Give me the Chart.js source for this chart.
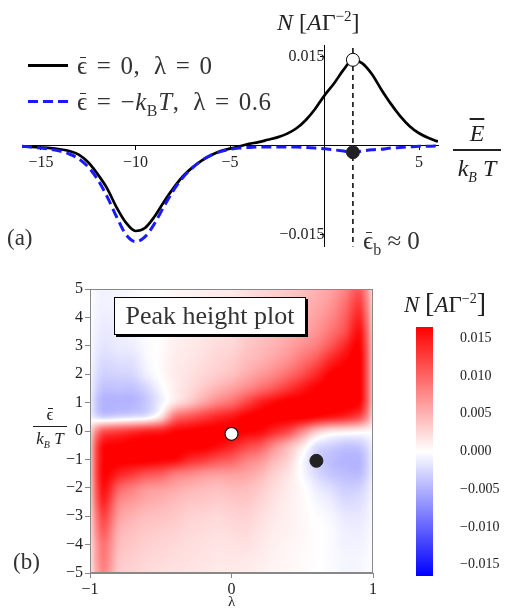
<!DOCTYPE html>
<html>
<head>
<meta charset="utf-8">
<script src="https://cdn.jsdelivr.net/npm/chart.js@4.4.1/dist/chart.umd.min.js"></script>
<style>
body { margin: 0; background: #fff; width: 511px; height: 612px; position: relative; overflow: hidden;
       font-family: "Liberation Serif", "DejaVu Serif", serif; }
.box { position: absolute; }
.t { position: absolute; white-space: nowrap; color: #333; line-height: 1; }
.leg { letter-spacing: 0.6px; }
.frac { position: absolute; text-align: center; line-height: 1; color: #222; font-style: italic; }
.frac .den { border-top: 2px solid #222; }
.op { margin: 0 9px; }
.eb { position: relative; }
.eb::after { content: ''; position: absolute; left: 0.1em; right: 0.05em; top: 0.2em; border-top: 1.5px solid currentColor; }
</style>
</head>
<body>
<div class="box" style="left:0;top:0;width:511px;height:260px"><canvas id="lineChart"></canvas></div>
<div class="box" style="left:0;top:270px;width:390px;height:342px"><canvas id="mapChart"></canvas></div>
<div class="box" style="left:380px;top:270px;width:131px;height:342px"><canvas id="barChart"></canvas></div>

<!-- panel (a) labels -->
<div class="t" style="left:277px;top:9px;font-size:24px;color:#222"><i>N</i> [<i>A</i>Γ<sup style="font-size:15px">−2</sup>]</div>
<div class="box" style="left:28px;top:64px;width:40px;height:3px;background:#000"></div>
<div class="t leg" style="left:77px;top:53px;font-size:25px"><span class="eb">ϵ</span><span class="op">=</span>0, &nbsp;λ<span class="op">=</span>0</div>
<div class="box" style="left:28px;top:100px;width:40px;height:3px;background:repeating-linear-gradient(90deg,#1a1aff 0 10px,transparent 10px 15px)"></div>
<div class="t leg" style="left:77px;top:89px;font-size:25px"><span class="eb">ϵ</span><span class="op">=</span>−<i>k</i><sub style="font-size:16px">B</sub><i>T</i>, &nbsp;λ<span class="op">=</span>0.6</div>
<div class="frac" style="left:453px;top:121px;width:48px;font-size:24px"><div style="text-decoration:overline;padding-bottom:4px">E</div><div class="den" style="padding-top:5px"><i>k<sub style="font-size:14px">B</sub></i> T</div></div>
<div class="t" style="left:7px;top:226px;font-size:23px">(a)</div>
<div class="t" style="left:363px;top:228px;font-size:25px"><span class="eb">ϵ</span><sub style="font-size:16px">b</sub> ≈ 0</div>

<!-- panel (b) labels -->
<div class="t" style="left:114px;top:297px;width:190px;height:36px;border:1px solid #000;box-shadow:2px 2px 0 #000;background:#fff;font-size:26px;text-align:center;line-height:36px">Peak height plot</div>
<div class="frac" style="left:33px;top:406px;width:34px;font-size:17px"><div style="padding-bottom:3px;font-style:normal"><span class="eb">ϵ</span></div><div class="den" style="border-top-width:1px;padding-top:3px">k<sub style="font-size:10px">B</sub> T</div></div>
<div class="t" style="left:228px;top:594px;font-size:15px;color:#222">λ</div>
<div class="t" style="left:13px;top:550px;font-size:23px">(b)</div>
<div class="t" style="left:404px;top:289px;font-size:23px;color:#222"><i>N</i> <span style="font-size:28px">[</span><i>A</i>Γ<sup style="font-size:14px">−2</sup><span style="font-size:28px">]</span></div>

<script>
// ---- panel (a): N against E/(kB T) ----
const energy = [-16, -15.5, -15, -14.5, -14, -13.5, -13, -12.5, -12, -11.5, -11, -10.5, -10, -9.5, -9,
  -8.5, -8, -7.5, -7, -6.5, -6, -5.5, -5, -4.5, -4, -3.5, -3, -2.5, -2, -1.5, -1, -0.5, 0,
  0.5, 1, 1.5, 2, 2.5, 3, 3.5, 4, 4.5, 5, 5.5, 6];
// eps = 0, lambda = 0
const nFlat = [-0.0001, -0.0002, -0.0003, -0.0004, -0.0006, -0.0009, -0.0015, -0.0028, -0.0048, -0.0072,
  -0.0104, -0.0130, -0.0144, -0.0139, -0.0120, -0.0095, -0.0072, -0.0052, -0.0037, -0.0025,
  -0.0016, -0.0009, -0.0005, -0.0001, 0.0003, 0.0006, 0.0010, 0.0014, 0.0020, 0.0029,
  0.0043, 0.0062, 0.0085, 0.0105, 0.0128, 0.0145, 0.0139, 0.0121, 0.0095, 0.0071,
  0.0050, 0.0033, 0.0021, 0.0013, 0.0007];
// eps = -kB T, lambda = 0.6
const nShifted = [-0.0001, -0.0002, -0.0004, -0.0006, -0.0009, -0.0014, -0.0022, -0.0036, -0.0057, -0.0086,
  -0.0120, -0.0150, -0.0162, -0.0154, -0.0132, -0.0103, -0.0076, -0.0054, -0.0038, -0.0025,
  -0.0016, -0.0010, -0.0006, -0.0004, -0.0003, -0.0002, -0.0002, -0.0002, -0.0002, -0.0002,
  -0.0003, -0.0004, -0.0005, -0.0007, -0.0009, -0.0011, -0.0009, -0.0007, -0.0006, -0.0004,
  -0.0003, -0.0002, -0.0001, -0.0001, 0];
const energyTicks = [-15, -10, -5, 5];
const nTicks = [-0.015, 0.015];
const peakEnergy = 1.5;
const peakFlat = 0.0145;
const peakShifted = -0.0011;

// ---- panel (b): peak height map, units of 1e-3 A/Gamma^2 ----
const lambdas = [-1, -0.95, -0.9, -0.8, -0.7, -0.6, -0.5, -0.4, -0.3, -0.2, -0.1, 0,
  0.1, 0.2, 0.3, 0.4, 0.5, 0.6, 0.7, 0.8, 0.9, 0.95, 1];
const epsilons = [5, 4.5, 4, 3.5, 3, 2.5, 2, 1.5, 1, 0.5, 0, -0.5, -1, -1.5, -2, -2.5, -3, -3.5, -4, -4.5, -5];
const peakHeight = [
  [-0.2, -0.6, -0.8, -0.6, -0.3, 0, 0.2, 0.5, 0.7, 1.0, 1.2, 1.4, 2.0, 2.5, 3.0, 3.5, 4.2, 5, 6, 8, 11, 7.7, 2.7],
  [-0.2, -0.7, -0.9, -0.7, -0.4, 0, 0.2, 0.6, 0.8, 1.1, 1.4, 1.6, 2.3, 2.9, 3.4, 4.0, 4.6, 5.5, 6.8, 9.2, 12.5, 8.8, 3.1],
  [-0.3, -0.8, -1.1, -0.9, -0.5, -0.1, 0.2, 0.7, 1.0, 1.3, 1.6, 1.9, 2.7, 3.3, 3.9, 4.5, 5.1, 6.2, 7.7, 10.3, 14, 9.8, 3.5],
  [-0.35, -1.0, -1.4, -1.1, -0.7, -0.2, 0.2, 0.9, 1.2, 1.5, 1.9, 2.2, 3.1, 3.8, 4.4, 5.1, 5.8, 7, 9, 11.5, 15.5, 10.9, 3.9],
  [-0.4, -1.3, -1.7, -1.3, -1.1, -0.3, 0.2, 1.0, 1.4, 1.8, 2.3, 2.6, 3.6, 4.3, 5.0, 6.0, 7.2, 8.5, 11, 14, 16.5, 11.6, 4.1],
  [-0.6, -1.7, -2.3, -2.0, -1.8, -0.5, 0.3, 1.2, 1.6, 2.1, 2.7, 3.2, 4.2, 5, 6.0, 7.2, 9, 11, 14, 16, 17, 11.9, 4.2],
  [-0.75, -2.2, -3.0, -2.8, -2.6, -1.0, 0.2, 1.3, 1.9, 2.6, 3.3, 4.0, 5.3, 6.5, 7.8, 9.5, 11.5, 14, 16.5, 17, 17, 11.9, 4.2],
  [-1.0, -3.0, -4.0, -3.9, -3.9, -2.6, -0.5, 1.2, 2.3, 3.6, 4.9, 6.1, 7.6, 9.3, 11, 13, 15, 16.5, 17, 17, 17, 11.9, 4.2],
  [-1.2, -3.7, -4.9, -4.9, -4.8, -3.5, -1.0, 1.8, 3.8, 6, 8, 9.5, 12, 14.5, 16, 17, 17, 17, 17, 17, 16.5, 11.6, 4.1],
  [-0.75, -2.2, -3.0, -2.5, -2.0, -1.2, 2, 9, 11, 12.5, 14, 15, 16.5, 17, 17, 17, 17, 16, 15, 14, 12, 8.4, 3],
  [2.7, 8, 11, 12, 13, 14, 14.5, 16, 16.5, 17, 17, 17, 16.5, 16, 14, 12, 8, 4, 2, 1.5, 1.0, 0.7, 0.25],
  [4, 12, 16, 16.5, 17, 17, 17, 17, 17, 17, 16, 14.5, 12.5, 11, 7.8, 5, 1.8, -1.8, -2.8, -3.6, -3.4, -2.4, -0.85],
  [4.1, 12.4, 16.5, 17, 17, 17, 16.5, 16, 14, 13, 11.5, 10.5, 8.5, 7.2, 4.8, 3.0, -0.2, -3.0, -4.2, -4.8, -4.8, -3.4, -1.2],
  [4.1, 12.4, 16.5, 14.5, 13, 11.5, 10.7, 8.8, 8, 7, 6.5, 6.5, 6, 4.9, 3.1, 1.8, -0.3, -2.4, -3.7, -4.3, -4.4, -3.1, -1.1],
  [3.9, 11.6, 15.5, 10.5, 8.5, 7, 6.5, 5.8, 5, 4.6, 4.2, 4.5, 4.4, 3.5, 2.3, 1.3, 0.3, -1.2, -2.2, -3.2, -3, -2.1, -0.75],
  [3.5, 10.5, 14, 8, 6.5, 5.5, 5, 4.4, 3.8, 3.6, 3.3, 3.5, 3.6, 2.8, 1.8, 1.1, 0.4, -0.5, -1.2, -2.3, -2.1, -1.5, -0.5],
  [3, 9, 12, 6.5, 5.0, 4.3, 4, 3.6, 3.0, 2.8, 2.5, 2.8, 2.9, 2.2, 1.5, 1.0, 0.5, -0.1, -0.6, -1.4, -1.5, -1.1, -0.4],
  [2.6, 7.9, 10.5, 5.3, 4.2, 3.6, 3.3, 3.0, 2.5, 2.3, 2.1, 2.3, 2.4, 1.8, 1.2, 0.9, 0.5, 0.1, -0.3, -1.0, -1.1, -0.8, -0.3],
  [2.3, 6.8, 9, 4.6, 3.6, 3.1, 2.8, 2.5, 2.2, 2.0, 1.8, 1.9, 2.0, 1.5, 1.0, 0.7, 0.4, 0.1, -0.3, -0.8, -0.8, -0.6, -0.2],
  [2.1, 6.4, 8.5, 4.0, 3.2, 2.7, 2.4, 2.2, 2.0, 1.8, 1.6, 1.6, 1.5, 1.2, 0.8, 0.6, 0.3, 0.1, -0.3, -0.6, -0.6, -0.4, -0.15],
  [2, 5.8, 7.8, 3.6, 2.9, 2.4, 2.1, 1.9, 1.8, 1.6, 1.4, 1.4, 1.3, 1.0, 0.7, 0.5, 0.3, 0, -0.3, -0.6, -0.6, -0.4, -0.15]
];
const lambdaTicks = [-1, 0, 1];
const epsTicks = [-5, -4, -3, -2, -1, 0, 1, 2, 3, 4, 5];
const whiteMark = { x: 0, y: -0.1 };
const blackMark = { x: 0.6, y: -1.05 };
const cbarTicks = [-0.015, -0.01, -0.005, 0, 0.005, 0.01, 0.015];
const cbarMin = -0.0165, cbarMax = 0.0165;

const serif = '"Liberation Serif", "DejaVu Serif", serif';
const minus = s => String(s).replace('-', '\u2212');

function heatColor(v) { // v in 1e-3
  const t = Math.max(-1, Math.min(1, v / 16.5));
  if (t >= 0) { const c = Math.round(255 * (1 - t)); return [255, c, c]; }
  const c = Math.round(255 * (1 + t));
  return [c, c, 255];
}

// fractional index of v in an ordered list of nodes
function nodeIndex(nodes, v) {
  const asc = nodes[nodes.length - 1] > nodes[0];
  for (let i = 0; i < nodes.length - 1; i++) {
    const a = nodes[i], b = nodes[i + 1];
    if ((asc && v <= b) || (!asc && v >= b)) return i + Math.max(0, Math.min(1, (v - a) / (b - a)));
  }
  return nodes.length - 1;
}

// smooth (Catmull-Rom) reading of the grid between its nodes
function cubic(p0, p1, p2, p3, t) {
  return p1 + 0.5 * t * (p2 - p0 + t * (2 * p0 - 5 * p1 + 4 * p2 - p3 + t * (3 * (p1 - p2) + p3 - p0)));
}
function sampleGrid(lam, eps) {
  const nx = lambdas.length, ny = epsilons.length;
  const fx = nodeIndex(lambdas, lam), fy = nodeIndex(epsilons, eps);
  const i = Math.min(Math.floor(fx), nx - 2), j = Math.min(Math.floor(fy), ny - 2);
  const dx = fx - i, dy = fy - j;
  const cell = (jj, ii) => peakHeight[Math.max(0, Math.min(ny - 1, jj))][Math.max(0, Math.min(nx - 1, ii))];
  const r = [];
  for (let m = -1; m <= 2; m++) {
    r.push(cubic(cell(j + m, i - 1), cell(j + m, i), cell(j + m, i + 1), cell(j + m, i + 2), dx));
  }
  return cubic(r[0], r[1], r[2], r[3], dy);
}

// dashed guide at the peak energy
const guideLine = {
  id: 'guideLine',
  beforeDatasetsDraw(chart) {
    const { ctx, chartArea: a, scales: { x } } = chart;
    const px = x.getPixelForValue(peakEnergy);
    ctx.save();
    ctx.strokeStyle = '#000';
    ctx.lineWidth = 1.5;
    ctx.setLineDash([5, 4]);
    ctx.beginPath();
    ctx.moveTo(px, a.top + 3);
    ctx.lineTo(px, a.bottom);
    ctx.stroke();
    ctx.restore();
  }
};

const heatmapLayer = {
  id: 'heatmapLayer',
  beforeDatasetsDraw(chart) {
    const { ctx, chartArea: a, scales: { x, y } } = chart;
    const w = Math.round(a.right - a.left), h = Math.round(a.bottom - a.top);
    const off = document.createElement('canvas');
    off.width = w; off.height = h;
    const octx = off.getContext('2d');
    const img = octx.createImageData(w, h);
    for (let j = 0; j < h; j++) {
      const eps = y.getValueForPixel(a.top + j + 0.5);
      for (let i = 0; i < w; i++) {
        const lam = x.getValueForPixel(a.left + i + 0.5);
        const c = heatColor(sampleGrid(lam, eps));
        const k = 4 * (j * w + i);
        img.data[k] = c[0]; img.data[k + 1] = c[1]; img.data[k + 2] = c[2]; img.data[k + 3] = 255;
      }
    }
    octx.putImageData(img, 0, 0);
    ctx.drawImage(off, a.left, a.top, w, h);
    ctx.save();
    ctx.strokeStyle = '#888';
    ctx.lineWidth = 1;
    ctx.strokeRect(a.left + 0.5, a.top + 0.5, w - 1, h - 1);
    ctx.restore();
  }
};

const colorbarLayer = {
  id: 'colorbarLayer',
  beforeDatasetsDraw(chart) {
    const { ctx, chartArea: a, scales: { y } } = chart;
    const g = ctx.createLinearGradient(0, y.getPixelForValue(cbarMax), 0, y.getPixelForValue(cbarMin));
    const steps = 60;
    for (let s = 0; s <= steps; s++) {
      const v = cbarMax - s * (cbarMax - cbarMin) / steps;
      const c = heatColor(v * 1000);
      g.addColorStop(s / steps, `rgb(${c[0]},${c[1]},${c[2]})`);
    }
    ctx.fillStyle = g;
    ctx.fillRect(a.left, a.top, a.right - a.left, a.bottom - a.top);
  }
};

new Chart(document.getElementById('lineChart'), {
  type: 'line',
  data: {
    datasets: [
      {
        type: 'scatter', order: 0,
        data: [{ x: peakEnergy, y: peakFlat }],
        pointRadius: 6.5, pointBackgroundColor: '#fff', pointBorderColor: '#000', pointBorderWidth: 1
      },
      {
        type: 'scatter', order: 0,
        data: [{ x: peakEnergy, y: peakShifted }],
        pointRadius: 6.5, pointBackgroundColor: '#222', pointBorderColor: '#222', pointBorderWidth: 1
      },
      {
        label: 'shifted', order: 1,
        data: energy.map((e, i) => ({ x: e, y: nShifted[i] })),
        borderColor: '#1a1aff', borderWidth: 3, borderDash: [10, 5],
        pointRadius: 0, cubicInterpolationMode: 'monotone'
      },
      {
        label: 'flat', order: 2,
        data: energy.map((e, i) => ({ x: e, y: nFlat[i] })),
        borderColor: '#000', borderWidth: 2.7,
        pointRadius: 0, cubicInterpolationMode: 'monotone'
      }
    ]
  },
  options: {
    responsive: true, maintainAspectRatio: false, animation: false,
    layout: { padding: { left: 22, right: 73, top: 45, bottom: 7 } },
    plugins: { legend: { display: false }, tooltip: { enabled: false } },
    scales: {
      x: {
        type: 'linear', min: -16, max: 6, position: { y: 0 },
        afterBuildTicks: s => { s.ticks = energyTicks.map(v => ({ value: v })); },
        border: { color: '#000', width: 1 },
        grid: { drawOnChartArea: false, color: '#000', tickLength: 4 },
        ticks: { font: { family: serif, size: 16 }, color: '#222', padding: 3, callback: v => minus(v) }
      },
      y: {
        type: 'linear', min: -0.017, max: 0.017, position: { x: 0 },
        afterBuildTicks: s => { s.ticks = nTicks.map(v => ({ value: v })); },
        border: { color: '#000', width: 1 },
        grid: { drawOnChartArea: false, color: '#000', tickLength: 4 },
        ticks: { font: { family: serif, size: 16 }, color: '#222', padding: 4, callback: v => minus(v.toFixed(3)) }
      }
    }
  },
  plugins: [guideLine]
});

new Chart(document.getElementById('mapChart'), {
  type: 'scatter',
  data: {
    datasets: [
      { data: [whiteMark], pointRadius: 6.5, pointBackgroundColor: '#fff', pointBorderColor: '#111', pointBorderWidth: 1.2 },
      { data: [blackMark], pointRadius: 6.5, pointBackgroundColor: '#222', pointBorderColor: '#222', pointBorderWidth: 1 }
    ]
  },
  options: {
    responsive: true, maintainAspectRatio: false, animation: false,
    layout: { padding: { left: 50, right: 17, top: 19, bottom: 9 } },
    plugins: { legend: { display: false }, tooltip: { enabled: false } },
    scales: {
      x: {
        type: 'linear', min: -1, max: 1,
        afterBuildTicks: s => { s.ticks = lambdaTicks.map(v => ({ value: v })); },
        afterFit: s => { s.height = 30; },
        border: { color: '#888', width: 1 },
        grid: { drawOnChartArea: false, color: '#888', tickLength: 5 },
        ticks: { font: { family: serif, size: 16 }, color: '#222', padding: 2, callback: v => minus(v) }
      },
      y: {
        type: 'linear', min: -5, max: 5,
        afterBuildTicks: s => { s.ticks = epsTicks.map(v => ({ value: v })); },
        afterFit: s => { s.width = 40; },
        border: { color: '#888', width: 1 },
        grid: { drawOnChartArea: false, color: '#888', tickLength: 5 },
        ticks: { font: { family: serif, size: 16 }, color: '#222', padding: 2, callback: v => minus(v) }
      }
    }
  },
  plugins: [heatmapLayer]
});

new Chart(document.getElementById('barChart'), {
  type: 'scatter',
  data: { datasets: [] },
  options: {
    responsive: true, maintainAspectRatio: false, animation: false,
    layout: { padding: { left: 36, right: 0, top: 57, bottom: 36 } },
    plugins: { legend: { display: false }, tooltip: { enabled: false } },
    scales: {
      x: { type: 'linear', min: 0, max: 1, display: false },
      y: {
        type: 'linear', min: cbarMin, max: cbarMax, position: 'right',
        afterBuildTicks: s => { s.ticks = cbarTicks.map(v => ({ value: v })); },
        afterFit: s => { s.width = 78; },
        border: { display: false },
        grid: { display: false },
        ticks: { font: { family: serif, size: 14 }, color: '#222', padding: 19, callback: v => minus(v.toFixed(3)) }
      }
    }
  },
  plugins: [colorbarLayer]
});
</script>
</body>
</html>
